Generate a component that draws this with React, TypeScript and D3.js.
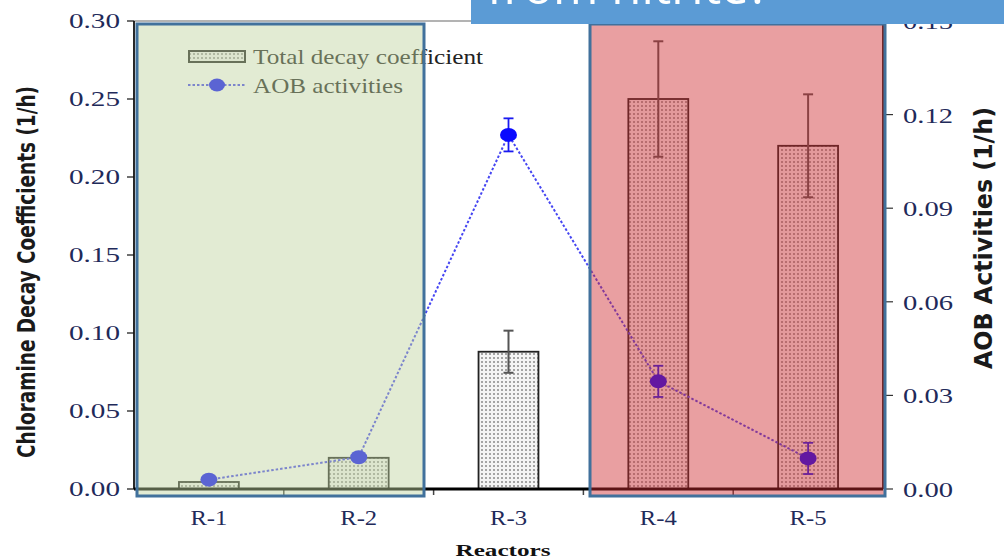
import React from "react";
import * as d3 from "d3";

// Reactor categories and measured values
const reactors = ["R-1", "R-2", "R-3", "R-4", "R-5"];
const decayCoef = [0.0045, 0.02, 0.088, 0.25, 0.22];
const decayErr = [0, 0, 0.0135, 0.037, 0.033];
const aobActivity = [0.003, 0.0102, 0.1135, 0.0345, 0.0098];
const aobErr = [0, 0, 0.0053, 0.005, 0.005];

const leftTicks = [0, 0.05, 0.1, 0.15, 0.2, 0.25, 0.3];
const rightTicks = [0, 0.03, 0.06, 0.09, 0.12, 0.15];

const W = 1004;
const H = 559;

const x = d3.scaleBand<string>().domain(reactors).range([134, 883]).paddingInner(0.6).paddingOuter(0.3);
const yL = d3.scaleLinear().domain([0, 0.3]).range([489, 21]);
const yR = d3.scaleLinear().domain([0, 0.15]).range([489, 21]);

const serif = "'Liberation Serif', 'Times New Roman', serif";
const narrow = "'DejaVu Sans Condensed', 'Liberation Sans Narrow', 'DejaVu Sans', sans-serif";
const tickColor = "#1f2a5a";
const dotColor = "#0a0aff";
const lineColor = "#4646f2";

export default function App() {
  const cx = (r: string) => (x(r) ?? 0) + x.bandwidth() / 2;
  const line = d3
    .line<number>()
    .x((_, i) => cx(reactors[i]))
    .y((v) => yR(v));
  const gap = (x.step() - x.bandwidth()) / 2;

  return (
    <div style={{ position: "absolute", left: 0, top: 0 }}>
      <svg width={W} height={H} viewBox={`0 0 ${W} ${H}`} style={{ display: "block", background: "#fff" }}>
        <defs>
          <pattern id="dots" width="4" height="4" patternUnits="userSpaceOnUse">
            <rect width="4" height="4" fill="#f4f4f4" />
            <circle cx="2" cy="2" r="1" fill="#8a8a8a" />
          </pattern>
        </defs>

        {/* frame */}
        <line x1={134} x2={883} y1={21} y2={21} stroke="#9a9a9a" strokeWidth={1.5} />
        <line x1={134} x2={134} y1={21} y2={489} stroke="#111" strokeWidth={1.8} />
        <line x1={883} x2={883} y1={21} y2={489} stroke="#111" strokeWidth={1.8} />

        {/* left ticks */}
        {leftTicks.map((t) => (
          <g key={"l" + t}>
            <line x1={127} x2={134} y1={yL(t)} y2={yL(t)} stroke="#111" strokeWidth={1.2} />
            <text
              x={120}
              y={yL(t) + 7}
              textAnchor="end"
              fontFamily={serif}
              fontSize={21}
              fill={tickColor}
              textLength={51}
              lengthAdjust="spacingAndGlyphs"
            >
              {t.toFixed(2)}
            </text>
          </g>
        ))}

        {/* right ticks */}
        {rightTicks.map((t) => (
          <g key={"r" + t}>
            <line x1={885} x2={893} y1={yR(t)} y2={yR(t)} stroke="#333" strokeWidth={1.2} />
            <text
              x={903}
              y={yR(t) + 8}
              fontFamily={serif}
              fontSize={21}
              fill={tickColor}
              textLength={50}
              lengthAdjust="spacingAndGlyphs"
            >
              {t.toFixed(2)}
            </text>
          </g>
        ))}

        {/* category boundary ticks */}
        {reactors.slice(1).map((r) => (
          <line key={"b" + r} x1={(x(r) ?? 0) - gap} x2={(x(r) ?? 0) - gap} y1={489} y2={495} stroke="#444" strokeWidth={1.5} />
        ))}

        {/* bars */}
        {reactors.map((r, i) => (
          <rect
            key={"bar" + r}
            x={x(r)}
            y={yL(decayCoef[i])}
            width={x.bandwidth()}
            height={yL(0) - yL(decayCoef[i])}
            fill="url(#dots)"
            stroke="#222"
            strokeWidth={1.8}
          />
        ))}

        {/* bar error bars */}
        {reactors.map((r, i) =>
          decayErr[i] > 0 ? (
            <g key={"be" + r} stroke="#555" strokeWidth={2}>
              <line x1={cx(r)} x2={cx(r)} y1={yL(decayCoef[i] + decayErr[i])} y2={yL(decayCoef[i] - decayErr[i])} />
              <line x1={cx(r) - 5} x2={cx(r) + 5} y1={yL(decayCoef[i] + decayErr[i])} y2={yL(decayCoef[i] + decayErr[i])} />
              <line x1={cx(r) - 5} x2={cx(r) + 5} y1={yL(decayCoef[i] - decayErr[i])} y2={yL(decayCoef[i] - decayErr[i])} />
            </g>
          ) : null
        )}

        {/* x axis */}
        <line x1={134} x2={883} y1={489} y2={489} stroke="#000" strokeWidth={3} />

        {/* AOB line */}
        <path d={line(aobActivity) ?? ""} fill="none" stroke={lineColor} strokeWidth={2} strokeDasharray="2.5,2" />
        {reactors.map((r, i) =>
          aobErr[i] > 0 ? (
            <g key={"ae" + r} stroke="#1a1af0" strokeWidth={1.8}>
              <line x1={cx(r)} x2={cx(r)} y1={yR(aobActivity[i] + aobErr[i])} y2={yR(aobActivity[i] - aobErr[i])} />
              <line x1={cx(r) - 5} x2={cx(r) + 5} y1={yR(aobActivity[i] + aobErr[i])} y2={yR(aobActivity[i] + aobErr[i])} />
              <line x1={cx(r) - 5} x2={cx(r) + 5} y1={yR(aobActivity[i] - aobErr[i])} y2={yR(aobActivity[i] - aobErr[i])} />
            </g>
          ) : null
        )}
        {reactors.map((r, i) => (
          <ellipse key={"pt" + r} cx={cx(r)} cy={yR(aobActivity[i])} rx={8.5} ry={7} fill={dotColor} />
        ))}

        {/* legend */}
        <rect x={189} y={51} width={56} height={11} fill="url(#dots)" stroke="#222" strokeWidth={2} />
        <text x={253} y={64} fontFamily={serif} fontSize={21} fill="#222" textLength={230} lengthAdjust="spacingAndGlyphs">
          Total decay coefficient
        </text>
        <line x1={188} x2={245} y1={85} y2={85} stroke={lineColor} strokeWidth={2} strokeDasharray="2.5,2" />
        <ellipse cx={217} cy={85} rx={8} ry={6.5} fill={dotColor} />
        <text x={253} y={93} fontFamily={serif} fontSize={21} fill="#222" textLength={150} lengthAdjust="spacingAndGlyphs">
          AOB activities
        </text>

        {/* category labels */}
        {reactors.map((r) => (
          <text
            key={"xl" + r}
            x={cx(r)}
            y={525}
            textAnchor="middle"
            fontFamily={serif}
            fontSize={22}
            fill={tickColor}
            textLength={37}
            lengthAdjust="spacingAndGlyphs"
          >
            {r}
          </text>
        ))}
        <text x={503} y={556} textAnchor="middle" fontFamily={serif} fontWeight="bold" fontSize={17} fill="#111" textLength={95} lengthAdjust="spacingAndGlyphs">
          Reactors
        </text>

        {/* axis titles */}
        <text
          transform="translate(35,272) rotate(-90)"
          textAnchor="middle"
          fontFamily={narrow}
          fontWeight="bold"
          fontSize={24}
          fill="#1a1a1a"
          textLength={372}
          lengthAdjust="spacingAndGlyphs"
        >
          Chloramine Decay Coefficients (1/h)
        </text>
        <text
          transform="translate(992,238) rotate(-90)"
          textAnchor="middle"
          fontFamily={narrow}
          fontWeight="bold"
          fontSize={24}
          fill="#1a1a1a"
          textLength={262}
          lengthAdjust="spacingAndGlyphs"
        >
          AOB Activities (1/h)
        </text>

        {/* highlight regions */}
        <rect x={137} y={24} width={287} height={472} fill="rgb(191,211,157)" fillOpacity={0.45} stroke="#41719c" strokeWidth={3} />
        <rect x={590} y={24} width={295} height={472} fill="rgb(206,42,46)" fillOpacity={0.45} stroke="#41719c" strokeWidth={3} />

        {/* callout banner */}
        <rect x={471} y={0} width={W - 471} height={24} fill="#5b9bd5" />
        <text x={487} y={4} fontFamily="'Open Sans', 'Noto Sans', sans-serif" fontSize={50} fill="#fff" textLength={283} lengthAdjust="spacingAndGlyphs">
          from nitrite?
        </text>
      </svg>
    </div>
  );
}
